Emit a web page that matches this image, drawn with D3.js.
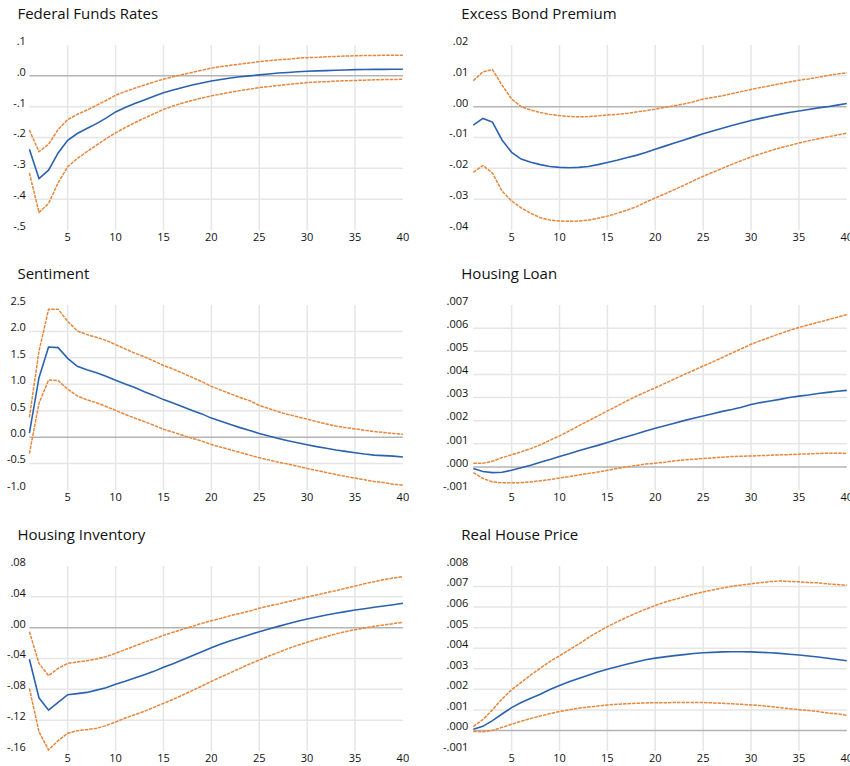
<!DOCTYPE html>
<html>
<head>
<meta charset="utf-8">
<script src="https://cdn.jsdelivr.net/npm/d3@7"></script>
<style>
body { margin: 0; background: #fff; }
text { font-family: "Open Sans", sans-serif; fill: #111; }
</style>
</head>
<body>
<script>
// horizons 1..40
var steps = d3.range(1, 41);

// Federal Funds Rates
var ffrMid = [-0.238,-0.333,-0.306,-0.25,-0.209,-0.187,-0.171,-0.155,-0.137,-0.117,-0.103,-0.09,-0.078,-0.066,-0.055,-0.046,-0.038,-0.03,-0.023,-0.017,
  -0.012,-0.007,-0.003,0.0,0.003,0.006,0.009,0.011,0.013,0.015,0.016,0.017,0.018,0.019,0.02,0.0205,0.021,0.021,0.0215,0.0215];
var ffrUp = [-0.176,-0.246,-0.222,-0.174,-0.142,-0.125,-0.111,-0.096,-0.08,-0.063,-0.051,-0.04,-0.03,-0.02,-0.011,-0.003,0.004,0.011,0.018,0.025,
  0.03,0.034,0.038,0.042,0.046,0.049,0.052,0.054,0.057,0.059,0.06,0.062,0.063,0.064,0.065,0.066,0.066,0.067,0.067,0.067];
var ffrLo = [-0.315,-0.443,-0.414,-0.347,-0.295,-0.268,-0.246,-0.225,-0.204,-0.185,-0.168,-0.152,-0.137,-0.123,-0.109,-0.098,-0.088,-0.08,-0.072,-0.065,
  -0.059,-0.053,-0.048,-0.043,-0.038,-0.035,-0.031,-0.028,-0.025,-0.022,-0.02,-0.019,-0.017,-0.016,-0.015,-0.014,-0.013,-0.012,-0.012,-0.011];
var ffrTicks = [0.1, 0, -0.1, -0.2, -0.3, -0.4, -0.5];
var ffrLabels = [".1", ".0", "-.1", "-.2", "-.3", "-.4", "-.5"];

// Excess Bond Premium
var ebpMid = [-0.006,-0.0038,-0.005,-0.0108,-0.0148,-0.017,-0.018,-0.0188,-0.0194,-0.0197,-0.0198,-0.0197,-0.0194,-0.0188,-0.0181,-0.0174,-0.0166,-0.0158,-0.0149,-0.0138,
  -0.0128,-0.0118,-0.0108,-0.0098,-0.0088,-0.0079,-0.007,-0.0061,-0.0053,-0.0045,-0.0038,-0.0031,-0.0025,-0.0019,-0.0014,-0.0009,-0.0004,0.0,0.0005,0.001];
var ebpUp = [0.0084,0.0113,0.012,0.007,0.0025,0.0,-0.0011,-0.0019,-0.0025,-0.0029,-0.0032,-0.0033,-0.0032,-0.003,-0.0027,-0.0025,-0.0022,-0.0017,-0.0013,-0.0008,
  -0.0002,0.0003,0.0009,0.0016,0.0025,0.003,0.0035,0.0042,0.0049,0.0056,0.0062,0.0068,0.0074,0.008,0.0086,0.009,0.0095,0.0101,0.0106,0.011];
var ebpLo = [-0.0213,-0.0191,-0.0215,-0.0274,-0.0306,-0.0328,-0.0346,-0.036,-0.0368,-0.0371,-0.0372,-0.0371,-0.0368,-0.0362,-0.0355,-0.0346,-0.0336,-0.0325,-0.031,-0.0296,
  -0.0283,-0.0269,-0.0255,-0.024,-0.0226,-0.0213,-0.02,-0.0187,-0.0175,-0.0163,-0.0153,-0.0143,-0.0134,-0.0126,-0.0118,-0.0111,-0.0104,-0.0098,-0.0092,-0.0086];
var ebpTicks = [0.02, 0.01, 0, -0.01, -0.02, -0.03, -0.04];
var ebpLabels = [".02", ".01", ".00", "-.01", "-.02", "-.03", "-.04"];

// Sentiment
var senMid = [0.075,1.125,1.706,1.694,1.49,1.34,1.275,1.22,1.15,1.077,1.006,0.94,0.86,0.79,0.71,0.645,0.575,0.506,0.44,0.36,
  0.3,0.24,0.18,0.125,0.07,0.02,-0.025,-0.07,-0.106,-0.144,-0.18,-0.21,-0.244,-0.27,-0.294,-0.32,-0.34,-0.35,-0.36,-0.375];
var senUp = [0.375,1.625,2.42,2.42,2.19,2.01,1.94,1.89,1.83,1.75,1.67,1.59,1.52,1.44,1.356,1.29,1.21,1.13,1.05,0.96,
  0.89,0.82,0.75,0.69,0.6,0.54,0.48,0.43,0.385,0.34,0.294,0.25,0.21,0.18,0.156,0.13,0.106,0.088,0.07,0.056];
var senLo = [-0.31,0.64,1.08,1.07,0.906,0.78,0.706,0.65,0.58,0.506,0.43,0.36,0.294,0.225,0.15,0.095,0.035,-0.02,-0.075,-0.14,
  -0.19,-0.24,-0.29,-0.34,-0.39,-0.43,-0.475,-0.51,-0.55,-0.594,-0.63,-0.67,-0.706,-0.744,-0.775,-0.806,-0.84,-0.86,-0.89,-0.91];
var senTicks = [2.5, 2.0, 1.5, 1.0, 0.5, 0, -0.5, -1.0];
var senLabels = ["2.5", "2.0", "1.5", "1.0", "0.5", "0.0", "-0.5", "-1.0"];

// Housing Loan
var hlMid = [-0.00007,-0.0002,-0.00025,-0.00023,-0.00015,-0.00004,0.00007,0.0002,0.00032,0.00045,0.00057,0.0007,0.00082,0.00093,0.00105,0.00118,0.0013,0.00142,0.00155,0.00167,
  0.00178,0.00189,0.002,0.0021,0.0022,0.0023,0.0024,0.00248,0.00258,0.0027,0.00278,0.00285,0.00292,0.003,0.00306,0.00311,0.00317,0.00322,0.00327,0.00331];
var hlUp = [0.00016,0.00016,0.00024,0.0004,0.00052,0.00065,0.00079,0.00095,0.00115,0.00134,0.00155,0.00177,0.00199,0.0022,0.00242,0.00263,0.00285,0.00305,0.00324,0.00342,
  0.00361,0.0038,0.00399,0.00417,0.00436,0.00454,0.00473,0.00492,0.00511,0.0053,0.00546,0.00561,0.00576,0.0059,0.00603,0.00614,0.00625,0.00636,0.00647,0.00658];
var hlLo = [-0.00025,-0.0005,-0.00065,-0.00069,-0.00069,-0.00068,-0.00065,-0.0006,-0.00055,-0.00048,-0.00042,-0.00035,-0.00029,-0.00022,-0.00015,-0.00007,0.0,0.00006,0.00012,0.00016,
  0.0002,0.00026,0.0003,0.00033,0.00036,0.00039,0.00042,0.00045,0.00046,0.00047,0.00049,0.0005,0.00052,0.00053,0.00055,0.00056,0.00058,0.00059,0.00059,0.00058];
var hlTicks = [0.007, 0.006, 0.005, 0.004, 0.003, 0.002, 0.001, 0, -0.001];
var hlLabels = [".007", ".006", ".005", ".004", ".003", ".002", ".001", ".000", "-.001"];

// Housing Inventory
var hiMid = [-0.041,-0.091,-0.107,-0.097,-0.087,-0.0856,-0.084,-0.081,-0.078,-0.0735,-0.0696,-0.0653,-0.061,-0.0567,-0.0515,-0.0467,-0.0415,-0.0363,-0.0311,-0.026,
  -0.0212,-0.0169,-0.013,-0.0091,-0.0052,-0.0017,0.0017,0.0052,0.0082,0.0112,0.0138,0.0164,0.0186,0.0208,0.023,0.0246,0.0264,0.0281,0.0298,0.0316];
var hiUp = [-0.0052,-0.0463,-0.0623,-0.0528,-0.0463,-0.0445,-0.0428,-0.0406,-0.0376,-0.0333,-0.0285,-0.0238,-0.019,-0.0147,-0.01,-0.006,-0.0022,0.0017,0.0056,0.0091,
  0.0121,0.0156,0.0186,0.0216,0.0251,0.0281,0.0307,0.0337,0.0368,0.0398,0.0424,0.0454,0.048,0.051,0.054,0.057,0.0597,0.0623,0.0644,0.0662];
var hiLo = [-0.0787,-0.135,-0.1587,-0.1466,-0.137,-0.1336,-0.1323,-0.1306,-0.127,-0.1224,-0.1172,-0.1129,-0.1085,-0.1034,-0.0982,-0.093,-0.0874,-0.0817,-0.0757,-0.0696,
  -0.064,-0.0584,-0.0528,-0.0471,-0.042,-0.0368,-0.032,-0.0272,-0.0229,-0.019,-0.0151,-0.0117,-0.0082,-0.0052,-0.0026,-0.0004,0.0017,0.0035,0.0052,0.0069];
var hiTicks = [0.08, 0.04, 0, -0.04, -0.08, -0.12, -0.16];
var hiLabels = [".08", ".04", ".00", "-.04", "-.08", "-.12", "-.16"];

// Real House Price
var rhpMid = [0.00006,0.0002,0.00048,0.0008,0.00111,0.00136,0.00157,0.00176,0.00199,0.00219,0.00237,0.00253,0.00269,0.00284,0.00298,0.0031,0.00322,0.00333,0.00344,0.00352,
  0.00358,0.00364,0.00369,0.00374,0.00378,0.0038,0.00382,0.00383,0.00383,0.00382,0.0038,0.00378,0.00375,0.00371,0.00367,0.00362,0.00357,0.00351,0.00345,0.00339];
var rhpUp = [0.00019,0.00053,0.001,0.00153,0.00198,0.00234,0.0027,0.00303,0.00335,0.00363,0.00392,0.0042,0.00451,0.00479,0.00505,0.00528,0.0055,0.00571,0.0059,0.00608,
  0.00624,0.00637,0.0065,0.00663,0.00674,0.00683,0.00693,0.00701,0.00708,0.00713,0.00719,0.00724,0.00727,0.00725,0.00723,0.0072,0.00718,0.00713,0.0071,0.00706];
var rhpLo = [-0.00005,-0.00006,0.0,0.00015,0.0003,0.00045,0.00058,0.0007,0.00082,0.00092,0.001,0.00108,0.00114,0.00119,0.00124,0.00127,0.0013,0.00132,0.00134,0.00135,
  0.00135,0.00136,0.00136,0.00136,0.00136,0.00134,0.00132,0.0013,0.00127,0.00124,0.00121,0.00116,0.00111,0.00106,0.00101,0.00097,0.00092,0.00085,0.00081,0.00074];
var rhpTicks = [0.008, 0.007, 0.006, 0.005, 0.004, 0.003, 0.002, 0.001, 0, -0.001];
var rhpLabels = [".008", ".007", ".006", ".005", ".004", ".003", ".002", ".001", ".000", "-.001"];

var xTicks = [5, 10, 15, 20, 25, 30, 35, 40];

var panels = [
  {title: "Federal Funds Rates", mid: ffrMid, up: ffrUp, lo: ffrLo, ticks: ffrTicks, labels: ffrLabels, col: 0, row: 0},
  {title: "Excess Bond Premium", mid: ebpMid, up: ebpUp, lo: ebpLo, ticks: ebpTicks, labels: ebpLabels, col: 1, row: 0},
  {title: "Sentiment", mid: senMid, up: senUp, lo: senLo, ticks: senTicks, labels: senLabels, col: 0, row: 1},
  {title: "Housing Loan", mid: hlMid, up: hlUp, lo: hlLo, ticks: hlTicks, labels: hlLabels, col: 1, row: 1},
  {title: "Housing Inventory", mid: hiMid, up: hiUp, lo: hiLo, ticks: hiTicks, labels: hiLabels, col: 0, row: 2},
  {title: "Real House Price", mid: rhpMid, up: rhpUp, lo: rhpLo, ticks: rhpTicks, labels: rhpLabels, col: 1, row: 2}
];

var colX = [29.4, 473.3], plotW = 373.5;
var rowY = [45, 305, 566], plotH = 185;

var svg = d3.select("body").append("svg")
  .attr("width", 850)
  .attr("height", 766);

panels.forEach(function(p) {
  var g = svg.append("g")
    .attr("transform", "translate(" + colX[p.col] + "," + rowY[p.row] + ")");

  var x = d3.scaleLinear().domain([1, 40]).range([0, plotW]);
  var y = d3.scaleLinear().domain(d3.extent(p.ticks)).range([plotH, 0]);

  // title
  g.append("text")
    .attr("x", -12)
    .attr("y", -26)
    .style("font-size", "15px")
    .text(p.title);

  // vertical grid (none drawn at the right edge)
  g.selectAll(".vg").data(xTicks.filter(function(d) { return d < 40; }))
    .enter().append("line")
    .attr("x1", d => x(d)).attr("x2", d => x(d))
    .attr("y1", 0).attr("y2", plotH)
    .attr("stroke", "#e6e6e6").attr("stroke-width", 1.5);

  // horizontal grid (interior ticks only)
  var inner = p.ticks.slice(1, -1);
  g.selectAll(".hg").data(inner)
    .enter().append("line")
    .attr("x1", 0).attr("x2", plotW)
    .attr("y1", d => y(d)).attr("y2", d => y(d))
    .attr("stroke", d => d === 0 ? "#b4b4b4" : "#e6e6e6")
    .attr("stroke-width", 1.5);

  // y tick labels
  g.selectAll(".yl").data(p.ticks)
    .enter().append("text")
    .attr("x", p.col === 0 ? -3.5 : -5)
    .attr("y", d => y(d) - 4)
    .attr("dy", "0.35em")
    .attr("text-anchor", "end")
    .style("font-size", "11px")
    .text((d, i) => p.labels[i]);

  // x tick labels
  g.selectAll(".xl").data(xTicks)
    .enter().append("text")
    .attr("x", d => x(d))
    .attr("y", plotH + 7.5)
    .attr("dy", "0.35em")
    .attr("text-anchor", "middle")
    .style("font-size", "11px")
    .text(d => d);

  var line = d3.line()
    .x((d, i) => x(steps[i]))
    .y(d => y(d));

  // bands
  [p.up, p.lo].forEach(function(s) {
    g.append("path")
      .datum(s)
      .attr("d", line)
      .attr("fill", "none")
      .attr("stroke", "#e8863a")
      .attr("stroke-width", 1.5)
      .attr("stroke-dasharray", "3.5,1");
  });

  // response
  g.append("path")
    .datum(p.mid)
    .attr("d", line)
    .attr("fill", "none")
    .attr("stroke", "#2a62b0")
    .attr("stroke-width", 1.6);
});
</script>
</body>
</html>
